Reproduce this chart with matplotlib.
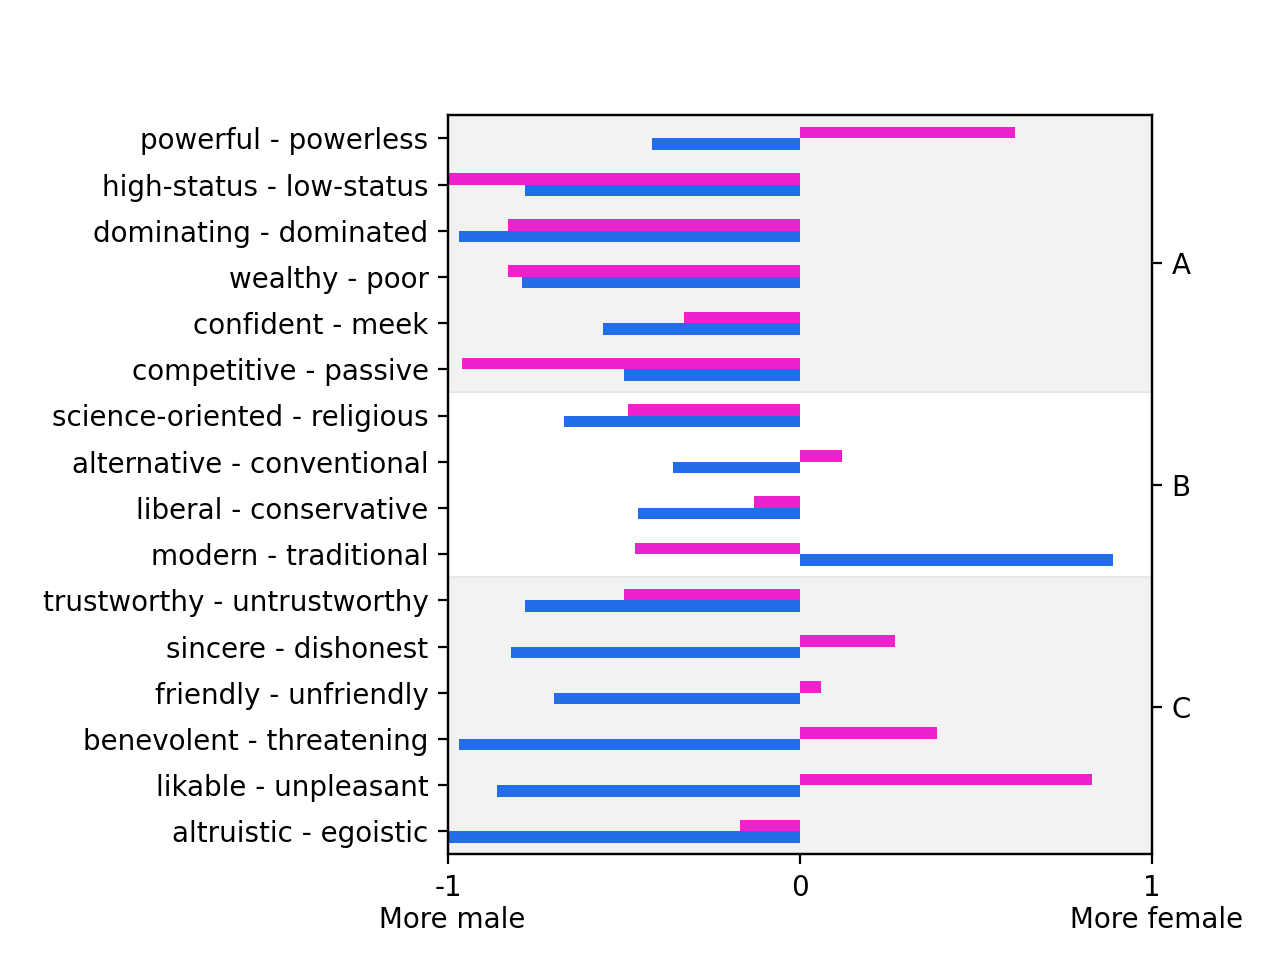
import matplotlib
matplotlib.use("Agg")
import matplotlib.pyplot as plt
import numpy as np

labels = ["powerful - powerless", "high-status - low-status", "dominating - dominated",
          "wealthy - poor", "confident - meek", "competitive - passive",
          "science-oriented - religious", "alternative - conventional",
          "liberal - conservative", "modern - traditional",
          "trustworthy - untrustworthy", "sincere - dishonest", "friendly - unfriendly",
          "benevolent - threatening", "likable - unpleasant", "altruistic - egoistic"]
pink_vals = [0.61, -1.0, -0.83, -0.83, -0.33, -0.96, -0.49, 0.12, -0.13, -0.47,
             -0.50, 0.27, 0.06, 0.39, 0.83, -0.17]
blue_vals = [-0.42, -0.78, -0.97, -0.79, -0.56, -0.50, -0.67, -0.36, -0.46, 0.89,
             -0.78, -0.82, -0.70, -0.97, -0.86, -1.0]
groups = ["A", "B", "C"]
group_bounds = [(-0.5, 5.5), (5.5, 9.5), (9.5, 15.5)]
group_tick_pos = [0.8, 0.5, 0.2]
xtick_vals = [-1, 0, 1]
xtick_labels = ["-1\n More male", "0", "1\n More female"]

pink = "#EE22CC"
blue = "#226EEA"

fig, ax = plt.subplots(figsize=(6.4, 4.8), dpi=200)
fig.subplots_adjust(left=0.35, right=0.9, top=0.88, bottom=0.11)

for i, (lo, hi) in enumerate(group_bounds):
    if i != 1:
        ax.axhspan(lo, hi, facecolor="#f2f2f2", edgecolor="#e6e6e6", lw=0.8, zorder=0)

y = np.arange(len(labels))
h = 0.25
ax.barh(y - h / 2, pink_vals, height=h, color=pink, zorder=2)
ax.barh(y + h / 2, blue_vals, height=h, color=blue, zorder=2)

ax.set_ylim(15.5, -0.5)
ax.set_xlim(-1, 1)
ax.set_yticks(y)
ax.set_yticklabels(labels)
ax.set_xticks(xtick_vals)
ax.set_xticklabels(xtick_labels)

ax2 = ax.twinx()
ax2.set_ylim(0, 1)
ax2.set_yticks(group_tick_pos)
ax2.set_yticklabels(groups)

fig.savefig("out.png")
